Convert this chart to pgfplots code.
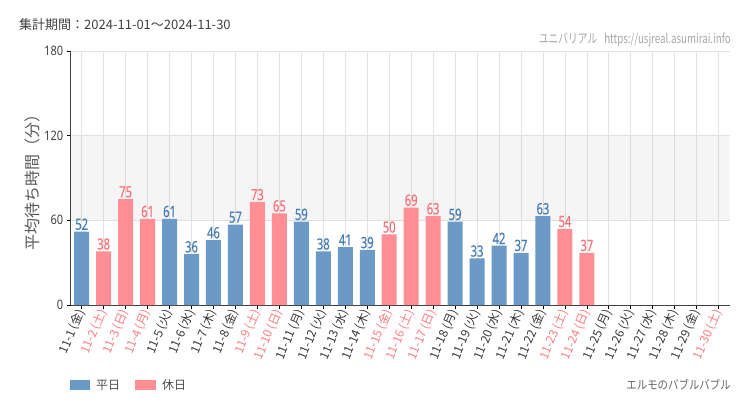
\documentclass[border=0pt]{standalone}
\usepackage{fontspec}
\usepackage{pgfplots}
\pgfplotsset{compat=1.18}
\setmainfont{Noto Sans CJK JP}
\newfontfamily\condfont[FakeStretch=0.72,FakeBold=0.35]{Noto Sans}
\newfontfamily\ytfont[FakeStretch=0.85]{Noto Sans}
\newfontfamily\condcjk[FakeStretch=0.75]{Noto Sans CJK JP}
\newfontfamily\cjkn[FakeStretch=0.87]{Noto Sans CJK JP}
\definecolor{wd}{RGB}{106,154,197}
\definecolor{hd}{RGB}{255,143,148}
\definecolor{wdl}{RGB}{70,125,180}
\definecolor{hdl}{RGB}{245,115,120}
\definecolor{hdt}{RGB}{250,125,130}
\newcommand{\hl}[1]{\textcolor{hdt}{#1}}
\begin{document}
\begin{tikzpicture}
\path[use as bounding box] (0pt,0pt) rectangle (750pt,410pt);
\node[anchor=west, text=black!75, font=\fontsize{13}{13}\selectfont, inner sep=0] at (19pt,385pt) {集計期間：2024-11-01～2024-11-30};
\node[anchor=east, text=black!35, font=\condcjk\fontsize{13}{13}\selectfont, inner sep=0] at (731pt,370pt) {ユニバリアル\hspace{7pt}https://usjreal.asumirai.info};
\node[anchor=east, text=black!60, font=\cjkn\fontsize{12}{12}\selectfont, inner sep=0] at (731pt,25pt) {エルモのバブルバブル};
\fill[wd] (70pt,20pt) rectangle (90pt,30pt);
\node[anchor=west, text=black!70, font=\fontsize{12}{12}\selectfont, inner sep=0] at (96pt,25pt) {平日};
\fill[hd] (135pt,20pt) rectangle (156pt,30pt);
\node[anchor=west, text=black!70, font=\fontsize{12}{12}\selectfont, inner sep=0] at (162pt,25pt) {休日};
\begin{axis}[
  at={(70.7pt,105pt)}, anchor=south west,
  scale only axis, width=659pt, height=254pt,
  xmin=-0.5, xmax=29.5, ymin=0, ymax=180,
  ytick={0,60,120,180},
  xtick={0,...,29},
  xticklabels={{11-1 (金)},{\hl{11-2 (土)}},{\hl{11-3 (日)}},{\hl{11-4 (月)}},{11-5 (火)},{11-6 (水)},{11-7 (木)},{11-8 (金)},{\hl{11-9 (土)}},{\hl{11-10 (日)}},{11-11 (月)},{11-12 (火)},{11-13 (水)},{11-14 (木)},{\hl{11-15 (金)}},{\hl{11-16 (土)}},{\hl{11-17 (日)}},{11-18 (月)},{11-19 (火)},{11-20 (水)},{11-21 (木)},{11-22 (金)},{\hl{11-23 (土)}},{\hl{11-24 (日)}},{11-25 (月)},{11-26 (火)},{11-27 (水)},{11-28 (木)},{11-29 (金)},{\hl{11-30 (土)}}},
  axis x line*=bottom, axis y line*=left,
  axis line style={draw=black!75},
  tick align=outside, major tick length=4pt,
  tick style={draw=black, line width=0.8pt},
  grid=major, major grid style={draw=black!11, line width=0.8pt},
  /pgf/number format/assume math mode=true,
  yticklabel style={font=\ytfont\fontsize{13}{12}\selectfont, text=black!75},
  xticklabel style={rotate=67, anchor=east, font=\fontsize{12}{12}\selectfont, text=black!78, inner sep=1pt},
  ylabel={平均待ち時間（分）},
  ylabel shift=-3pt,
  ylabel style={font=\fontsize{16}{16}\selectfont, text=black!65},
]
\addplot[fill=black, fill opacity=0.04, draw=none, forget plot] coordinates {(-0.5,60)(29.5,60)(29.5,120)(-0.5,120)(-0.5,60)};
\addplot[ybar, bar width=15pt, bar shift=0pt, fill=wd, draw=none, nodes near coords, nodes near coords style={font=\condfont\fontsize{15.5}{15}\selectfont, anchor=south, inner sep=1.5pt, text=wdl}] coordinates {(0,52)(4,61)(5,36)(6,46)(7,57)(10,59)(11,38)(12,41)(13,39)(17,59)(18,33)(19,42)(20,37)(21,63)};
\addplot[ybar, bar width=15pt, bar shift=0pt, fill=hd, draw=none, nodes near coords, nodes near coords style={font=\condfont\fontsize{15.5}{15}\selectfont, anchor=south, inner sep=1.5pt, text=hdl}] coordinates {(1,38)(2,75)(3,61)(8,73)(9,65)(14,50)(15,69)(16,63)(22,54)(23,37)};
\end{axis}
\end{tikzpicture}
\end{document}
